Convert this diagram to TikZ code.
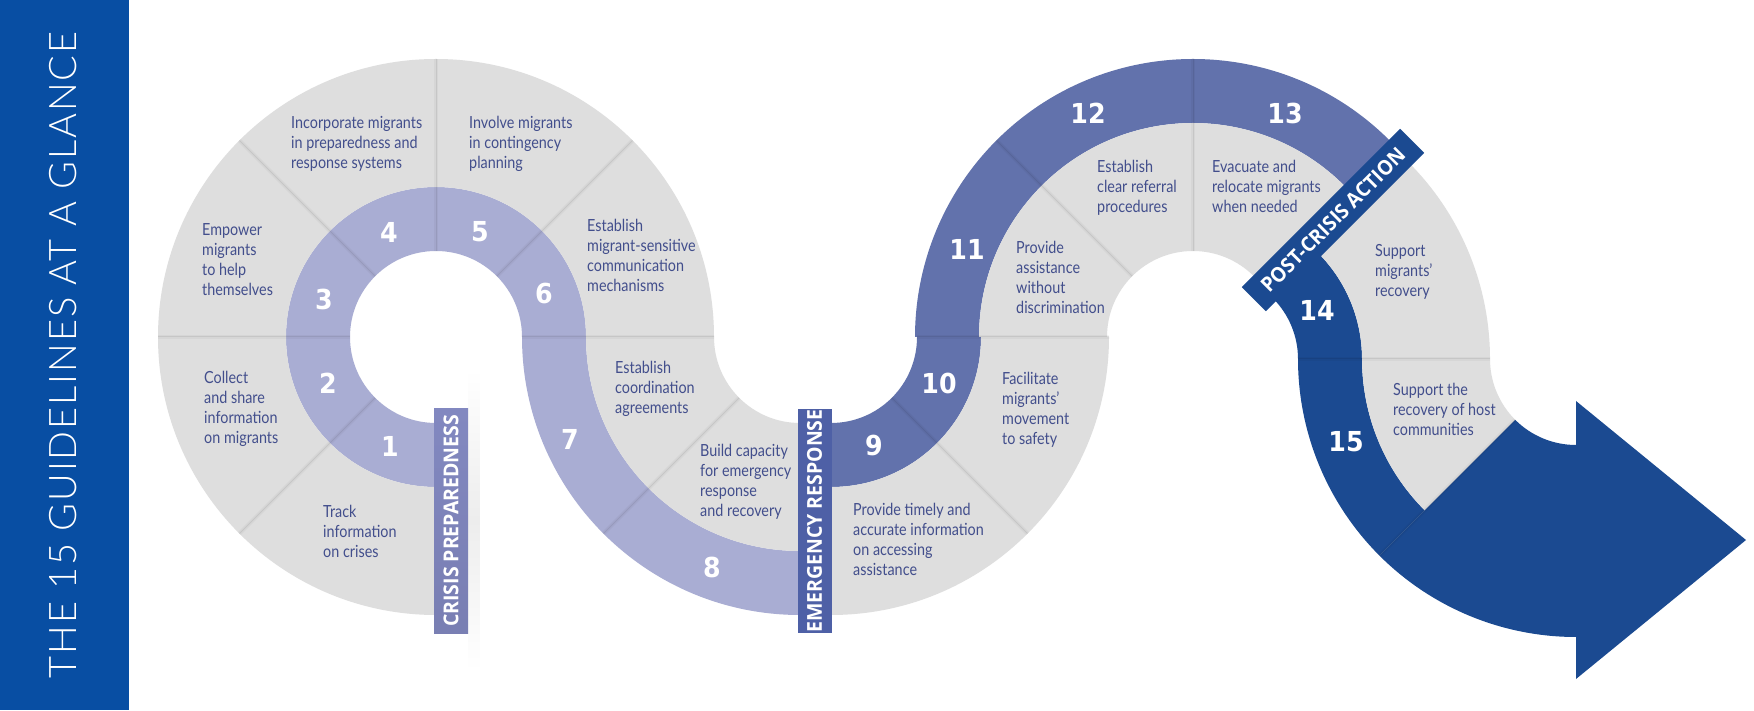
\documentclass[tikz,border=0pt]{standalone}
\usepackage{fontspec}
\usetikzlibrary{calc,fadings}
\newfontfamily\txtfont[FakeStretch=0.86]{Lato}
\newfontfamily\titlefont[LetterSpace=5]{Lato Light}
\newfontfamily\numfont[FakeStretch=0.92]{DejaVu Sans}
\newfontfamily\lblfont[FakeStretch=0.95]{Open Sans}
\definecolor{barblue}{RGB}{8,78,163}
\definecolor{lav}{RGB}{169,173,211}
\definecolor{midblue}{RGB}{98,114,172}
\definecolor{darkblue}{RGB}{27,74,145}
\definecolor{greyfill}{RGB}{222,222,222}
\definecolor{txtc}{RGB}{66,78,140}
\definecolor{lblA}{RGB}{130,136,192}
\definecolor{lblB}{RGB}{78,96,166}
\newcommand\sect[6]{\fill[#1] ($(#2)+(#5:#3pt)$) arc[start angle=#5,end angle=#6,radius=#3pt] -- ($(#2)+(#6:#4pt)$) arc[start angle=#6,end angle=#5,radius=#4pt] -- cycle;}
\newcommand\dv[4]{\draw[divsoft] ($(#1)+(#2:#3pt)$) -- ($(#1)+(#2:#4pt)$); \draw[divline] ($(#1)+(#2:#3pt)$) -- ($(#1)+(#2:#4pt)$);}
\newcommand\tb[1]{\begin{tabular}[t]{@{}l@{}}#1\end{tabular}}
\tikzfading[name=vfade, top color=transparent!100, bottom color=transparent!100, middle color=transparent!0]
\begin{document}
\begin{tikzpicture}[x=1pt,y=1pt,
  num/.style={font=\numfont\bfseries\fontsize{27.5}{27.5}\selectfont, text=white, inner sep=0},
  desc/.style={font=\txtfont\fontsize{16.7}{20}\selectfont, text=txtc, anchor=base west, inner sep=0},
  lbl/.style={font=\lblfont\bfseries\fontsize{20.5}{20.5}\selectfont, text=white, inner sep=0, minimum width=224pt, minimum height=34pt},
  divline/.style={draw=black, draw opacity=0.07, line width=1pt},
  divsoft/.style={draw=black, draw opacity=0.035, line width=4pt}]
\useasboundingbox (0,0) rectangle (1754,710);
\fill[white] (0,0) rectangle (1754,710);
\fill[barblue] (0,0) rectangle (128.5,710);
\node[rotate=90, text=white, font=\titlefont\fontsize{38}{38}\selectfont, inner sep=0] (title) at (63,355) {THE 15 GUIDELINES AT A GLANCE};

\coordinate (C1) at (436,373);
\coordinate (C2L) at (800,373);
\coordinate (C2R) at (831,373);
\coordinate (C3) at (1193,373);
\coordinate (C4) at (1212,351);
\coordinate (C5) at (1576,351);

% circle 1
\sect{lav}{C1}{86}{150}{270}{0}
\sect{greyfill}{C1}{150}{278}{270}{0}
% circle 2 left
\sect{lav}{C2L}{214}{278}{180}{270}
\sect{greyfill}{C2L}{86}{214}{180}{270}
% circle 2 right
\sect{midblue}{C2R}{86}{150}{270}{360}
\sect{greyfill}{C2R}{150}{278}{270}{360}
% circle 3
\sect{midblue}{C3}{214}{278}{180}{45}
\sect{greyfill}{C3}{86}{214}{180}{45}
% circle 4
\sect{darkblue}{C4}{86}{150}{45}{0}
\sect{greyfill}{C4}{150}{278}{45}{0}
% circle 5
\sect{darkblue}{C5}{214}{278}{180}{225}
\sect{greyfill}{C5}{86}{214}{180}{225}
% arrow
\fill[darkblue] ($(C5)+(225:86pt)$) arc[start angle=225,end angle=270,radius=86pt] -- (1576,309) -- (1746,170) -- (1576,31) -- ($(C5)+(270:278pt)$) arc[start angle=270,end angle=225,radius=278pt] -- cycle;

% dividers
\foreach \a in {225,180,135,90,45,0} {\dv{C1}{\a}{86}{278}}
\dv{C2L}{225}{86}{278}
\dv{C2R}{315}{86}{278}
\dv{C2R}{0}{86}{278}
\dv{C3}{135}{86}{278}
\dv{C3}{90}{86}{278}
\dv{C4}{0}{86}{278}
\dv{C5}{225}{86}{278}

% shadow beside crisis label
\fill[black, opacity=0.07, path fading=vfade] (468,40) rectangle (480,340);

% labels
\node[lbl, top color=lblA, bottom color=lblA!93!black, rotate=90] (crisis) at (451,189) {CRISIS PREPAREDNESS};
\node[lbl, fill=lblB, rotate=90] (emergency) at (814.5,189) {EMERGENCY RESPONSE};
\node[lbl, fill=darkblue, rotate=45] (post) at (1333,490) {POST-CRISIS ACTION};

% numbers
\node[num] (n1) at (390,264) {1};
\node[num] (n2) at (328,327) {2};
\node[num] (n3) at (324,411) {3};
\node[num] (n4) at (389,478) {4};
\node[num] (n5) at (480,478) {5};
\node[num] (n6) at (544,416.5) {6};
\node[num] (n7) at (570,271) {7};
\node[num] (n8) at (712,142.5) {8};
\node[num] (n9) at (874,264) {9};
\node[num] (n10) at (939,327) {10};
\node[num] (n11) at (967,461) {11};
\node[num] (n12) at (1088,597) {12};
\node[num] (n13) at (1285,597) {13};
\node[num] (n14) at (1317,400) {14};
\node[num] (n15) at (1346,268) {15};

% descriptions
\node[desc] (t1) at (323,192) {\tb{Track\\information\\on crises}};
\node[desc] (t2) at (204,326) {\tb{Collect\\and share\\information\\on migrants}};
\node[desc] (t3) at (202,474) {\tb{Empower\\migrants\\to help\\themselves}};
\node[desc] (t4) at (291,581) {\tb{Incorporate migrants\\in preparedness and\\response systems}};
\node[desc] (t5) at (469,581) {\tb{Involve migrants\\in contingency\\planning}};
\node[desc] (t6) at (587,478.5) {\tb{Establish\\migrant-sensitive\\communication\\mechanisms}};
\node[desc] (t7) at (615,336) {\tb{Establish\\coordination\\agreements}};
\node[desc] (t8) at (700,253.5) {\tb{Build capacity\\for emergency\\response\\and recovery}};
\node[desc] (t9) at (853,194.5) {\tb{Provide timely and\\accurate information\\on accessing\\assistance}};
\node[desc] (t10) at (1002,325.5) {\tb{Facilitate\\migrants’\\movement\\to safety}};
\node[desc] (t11) at (1016,456) {\tb{Provide\\assistance\\without\\discrimination}};
\node[desc] (t12) at (1097,537) {\tb{Establish\\clear referral\\procedures}};
\node[desc] (t13) at (1212,537) {\tb{Evacuate and\\relocate migrants\\when needed}};
\node[desc] (t14) at (1375,453.3) {\tb{Support\\migrants’\\recovery}};
\node[desc] (t15) at (1393,314.3) {\tb{Support the\\recovery of host\\communities}};
\end{tikzpicture}
\end{document}
